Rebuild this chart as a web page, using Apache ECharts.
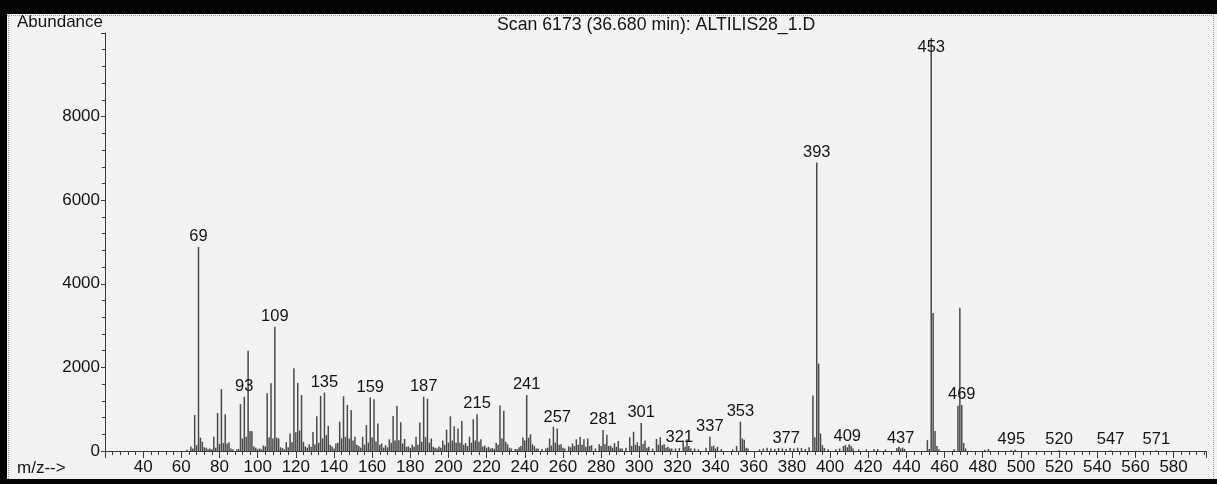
<!DOCTYPE html>
<html>
<head>
<meta charset="utf-8">
<script src="https://cdn.jsdelivr.net/npm/echarts@6/dist/echarts.min.js"></script>
<style>
  html, body { margin: 0; padding: 0; background: #f2f2f3; }
  #chart { width: 1217px; height: 484px; }
</style>
</head>
<body>
<div id="chart"></div>
<script>
// Mass spectrum of one scan: m/z against ion abundance.
const titleText = 'Scan 6173 (36.680 min): ALTILIS28_1.D';
const xAxisName = 'm/z-->';
const yAxisName = 'Abundance';

// [m/z, abundance] pairs, grouped by mass range
const lowMassPeaks = [
  [63, 30], [65, 110], [66, 60], [67, 860], [68, 140], [69, 4880], [70, 320], [71, 220],
  [72, 90], [73, 80], [74, 40], [75, 60], [76, 40], [77, 340], [78, 80], [79, 910],
  [80, 170], [81, 1480], [82, 190], [83, 880], [84, 180], [85, 210], [86, 60], [87, 40],
  [89, 40], [90, 50], [91, 1120], [92, 300], [93, 1300], [94, 340], [95, 2400], [96, 480],
  [97, 470], [98, 110], [99, 80], [100, 40], [101, 60], [102, 40], [103, 130], [104, 110],
  [105, 1380], [106, 330], [107, 1620], [108, 300], [109, 2970], [110, 320], [111, 300],
  [112, 90], [113, 70], [114, 40], [115, 210], [116, 90], [117, 420], [118, 210],
  [119, 1980], [120, 450], [121, 1630], [122, 490], [123, 1340], [124, 220], [125, 110],
  [126, 80], [127, 160], [128, 100], [129, 455], [130, 160], [131, 830], [132, 200],
  [133, 1320], [134, 300], [135, 1400], [136, 380], [137, 600], [138, 150], [139, 110],
  [140, 60], [141, 180], [142, 200], [143, 700], [144, 300], [145, 1310], [146, 340],
  [147, 1100], [148, 300], [149, 980], [150, 250]
];

const midMassPeaks = [
  [151, 340], [152, 150], [153, 120], [154, 80], [155, 340], [156, 150], [157, 620],
  [158, 200], [159, 1280], [160, 320], [161, 1240], [162, 230], [163, 660], [164, 150],
  [165, 180], [166, 80], [167, 140], [168, 90], [169, 280], [170, 200], [171, 840],
  [172, 250], [173, 1080], [174, 260], [175, 690], [176, 180], [177, 290], [178, 100],
  [179, 110], [180, 70], [181, 150], [182, 100], [183, 340], [184, 150], [185, 680],
  [186, 220], [187, 1300], [188, 330], [189, 1250], [190, 200], [191, 300], [192, 100],
  [193, 80], [194, 60], [195, 110], [196, 80], [197, 250], [198, 150], [199, 510],
  [200, 200], [201, 830], [202, 250], [203, 590], [204, 200], [205, 540], [206, 200],
  [207, 720], [208, 150], [209, 190], [210, 120], [211, 340], [212, 200], [213, 760],
  [214, 250], [215, 880], [216, 220], [217, 280], [218, 110], [219, 130], [220, 80],
  [221, 100], [222, 60], [223, 70], [224, 50], [225, 200], [226, 150], [227, 1090],
  [228, 300], [229, 960], [230, 220], [231, 160], [232, 80], [233, 60], [235, 50],
  [236, 40], [237, 90], [238, 120], [239, 320], [240, 250], [241, 1340], [242, 320],
  [243, 400], [244, 160], [245, 120], [246, 60], [247, 60], [249, 50], [251, 60],
  [252, 80], [253, 300], [254, 130], [255, 580], [256, 200], [257, 540], [258, 150],
  [259, 160], [260, 80], [261, 60], [263, 110], [264, 90], [265, 180], [266, 120],
  [267, 280], [268, 150], [269, 340], [270, 150], [271, 280], [272, 100], [273, 300],
  [274, 120], [275, 140], [277, 60], [279, 160], [280, 120], [281, 500], [282, 160],
  [283, 390], [284, 120], [285, 130], [286, 80], [287, 190], [288, 100], [289, 240],
  [290, 60], [291, 60], [293, 80], [295, 330], [296, 120], [297, 460], [298, 150],
  [299, 210], [300, 120]
];

const highMassPeaks = [
  [301, 670], [302, 170], [303, 250], [304, 80], [305, 100], [307, 60], [309, 290],
  [310, 150], [311, 330], [312, 140], [313, 160], [314, 80], [315, 100], [316, 60],
  [317, 60], [319, 60], [321, 70], [323, 250], [324, 100], [325, 280], [326, 120],
  [327, 60], [329, 60], [331, 40], [335, 80], [337, 340], [338, 110], [339, 130],
  [340, 60], [341, 100], [343, 50], [349, 40], [351, 120], [353, 700], [354, 300],
  [355, 270], [356, 80], [357, 60], [363, 40], [365, 60], [367, 80], [369, 60],
  [371, 50], [373, 70], [375, 60], [377, 50], [379, 70], [381, 60], [383, 80],
  [385, 70], [387, 50], [389, 90], [391, 1330], [392, 330], [393, 6900], [394, 2090],
  [395, 420], [396, 140], [397, 70], [399, 40], [403, 40], [405, 60], [407, 120],
  [408, 140], [409, 90], [410, 160], [411, 120], [412, 60], [415, 40], [419, 40],
  [423, 50], [425, 40], [429, 40], [435, 70], [436, 100], [437, 60], [438, 80],
  [439, 50], [451, 260], [452, 50], [453, 9880], [454, 3300], [455, 480], [456, 120],
  [457, 40], [465, 40], [467, 1080], [468, 3430], [469, 1100], [470, 190], [471, 60],
  [481, 30], [483, 50], [495, 20], [497, 30], [520, 15], [547, 15], [571, 15]
];

// m/z values printed above their peaks
const labelledMz = [69, 93, 109, 135, 159, 187, 215, 241, 257, 281, 301, 321, 337,
  353, 377, 393, 409, 437, 453, 469, 495, 520, 547, 571];

// axis ranges and tick spacing
const xRange = [20, 597];
const xTickStep = 20;
const yRange = [0, 10000];
const yTickStep = 2000;

const font = 'Liberation Sans, Arial, Helvetica, sans-serif';
const ink = '#141414';

const peaks = lowMassPeaks.concat(midMassPeaks, highMassPeaks);
const barData = peaks.map(([mz, ab]) => {
  const item = { value: [mz, ab] };
  if (labelledMz.includes(mz)) {
    item.label = { show: true };
    // the base peak label sits lower, crossing its own line near the frame top
    if (mz === 453) item.label.offset = [0, 20];
  }
  return item;
});

const chart = echarts.init(document.getElementById('chart'), null, { renderer: 'canvas' });
chart.setOption({
  animation: false,
  backgroundColor: '#f2f2f3',
  textStyle: { fontFamily: font },
  grid: { left: 105, right: 11, top: 33, bottom: 33 },
  xAxis: {
    type: 'value',
    min: xRange[0],
    max: xRange[1],
    interval: xTickStep,
    axisLine: { lineStyle: { color: '#3a3a3a', width: 1 } },
    axisTick: { show: true, length: 7, lineStyle: { color: '#3a3a3a' } },
    minorTick: { show: true, splitNumber: 5, length: 4, lineStyle: { color: '#3a3a3a' } },
    splitLine: { show: false },
    axisLabel: {
      fontSize: 17, color: ink, fontFamily: font, margin: 8,
      formatter: v => (v >= 40 && v % xTickStep === 0) ? String(v) : ''
    }
  },
  yAxis: {
    type: 'value',
    min: yRange[0],
    max: yRange[1],
    interval: yTickStep,
    axisLine: { show: true, lineStyle: { color: '#3a3a3a', width: 1 } },
    axisTick: { show: true, length: 4, lineStyle: { color: '#3a3a3a' } },
    minorTick: { show: true, splitNumber: 5, length: 3, lineStyle: { color: '#3a3a3a' } },
    splitLine: { show: false },
    axisLabel: {
      fontSize: 17, color: ink, fontFamily: font, margin: 5,
      formatter: v => v === yRange[1] ? '' : String(v)
    }
  },
  series: [{
    type: 'bar',
    data: barData,
    barWidth: 1.5,
    silent: true,
    itemStyle: { color: '#4a4a4a' },
    label: {
      show: false,
      position: 'top',
      distance: 2,
      fontSize: 16.5,
      color: ink,
      fontFamily: font,
      formatter: p => String(p.value[0])
    }
  }],
  graphic: [
    { type: 'text', left: 17, top: 14, z: 10,
      style: { text: yAxisName, fontSize: 17, fontFamily: font, fill: ink } },
    { type: 'text', left: 497, top: 16, z: 10,
      style: { text: titleText, fontSize: 17.7, fontFamily: font, fill: ink } },
    { type: 'text', left: 17, top: 460, z: 10,
      style: { text: xAxisName, fontSize: 17, fontFamily: font, fill: ink } },
    // page frame
    { type: 'rect', shape: { x: 0, y: 0, width: 1217, height: 14 }, style: { fill: '#050505' }, z: 20 },
    { type: 'rect', shape: { x: 0, y: 0, width: 7, height: 484 }, style: { fill: '#050505' }, z: 20 },
    { type: 'rect', shape: { x: 0, y: 479, width: 1217, height: 5 }, style: { fill: '#050505' }, z: 20 },
    { type: 'line', shape: { x1: 7, y1: 15.5, x2: 1213, y2: 15.5 },
      style: { stroke: '#9a9a9a', lineWidth: 1, lineDash: [1, 1] }, z: 20 },
    { type: 'line', shape: { x1: 8.5, y1: 14, x2: 8.5, y2: 479 },
      style: { stroke: '#9a9a9a', lineWidth: 1, lineDash: [1, 1] }, z: 20 },
    { type: 'line', shape: { x1: 1213.5, y1: 14, x2: 1213.5, y2: 479 },
      style: { stroke: '#9a9a9a', lineWidth: 1, lineDash: [1, 1] }, z: 20 }
  ]
});
</script>
</body>
</html>
